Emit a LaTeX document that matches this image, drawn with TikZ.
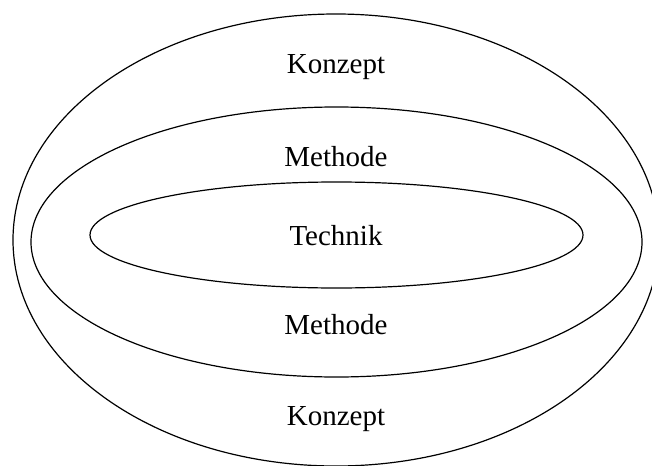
\documentclass[tikz,border=0pt]{standalone}
\usepackage{fontspec}
\setmainfont{Liberation Serif}
\usetikzlibrary{shapes.geometric}
\tikzset{
  ring/.style={draw=black, line width=1.2pt, ellipse, inner sep=0pt},
  lbl/.style={anchor=base, font=\fontsize{29}{34}\selectfont, inner sep=0pt}
}
\begin{document}
\begin{tikzpicture}[x=1pt, y=-1pt]
  \useasboundingbox (0,0) rectangle (652,465);
  \clip (0,0) rectangle (652,465);
  % nested levels
  \node[ring, minimum width=646pt, minimum height=452pt] (konzept) at (336,240) {};
  \node[ring, minimum width=611pt, minimum height=270pt] (methode) at (336.5,242) {};
  \node[ring, minimum width=493pt, minimum height=106pt] (technik) at (336.5,235) {};
  % labels
  \node[lbl] (k1) at (336,74) {Konzept};
  \node[lbl] (m1) at (336,166) {Methode};
  \node[lbl] (t)  at (336,245) {Technik};
  \node[lbl] (m2) at (336,334) {Methode};
  \node[lbl] (k2) at (336,425) {Konzept};
\end{tikzpicture}
\end{document}
